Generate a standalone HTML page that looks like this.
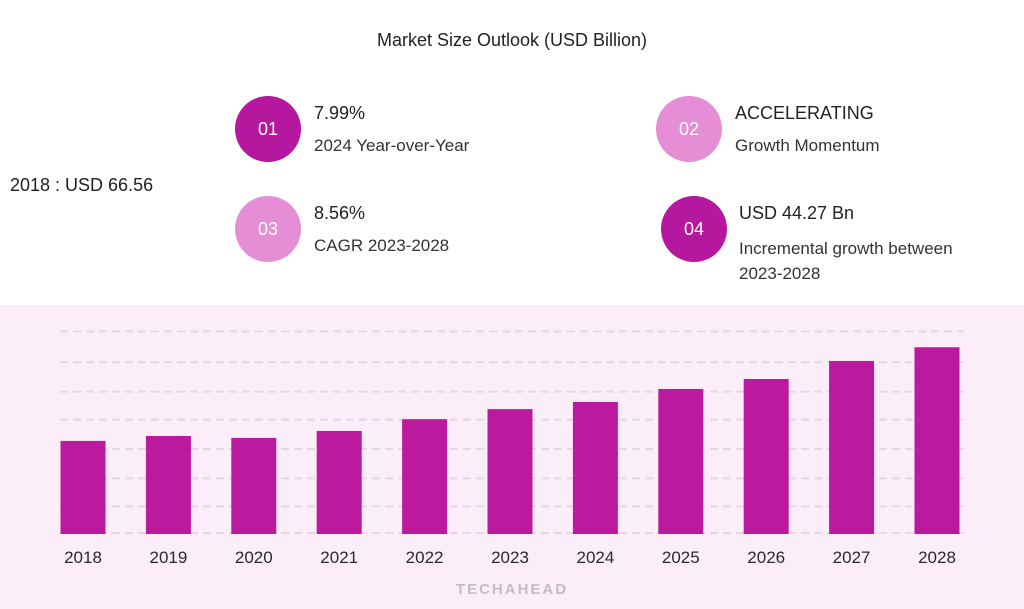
<!DOCTYPE html>
<html><head><meta charset="utf-8"><style>
body{margin:0;width:1024px;height:609px;background:#fff;font-family:"Liberation Sans",sans-serif;position:relative;overflow:hidden;color:#222}
.t{position:absolute;white-space:nowrap}
.c{position:absolute;width:66px;height:66px;border-radius:50%;color:#fff;font-size:18px;display:flex;align-items:center;justify-content:center}
.d{background:#b5179e}.l{background:#e68ed5}
.h{font-size:18px;color:#222}.s{font-size:17px;color:#333}
</style></head><body>
<div class="t" style="left:0;width:1024px;text-align:center;top:30px;font-size:18px">Market Size Outlook (USD Billion)</div>
<div class="t" style="left:10px;top:175px;font-size:18px">2018 : USD 66.56</div>
<div class="c d" style="left:235px;top:96px">01</div>
<div class="t h" style="left:314px;top:103px">7.99%</div>
<div class="t s" style="left:314px;top:136px">2024 Year-over-Year</div>
<div class="c l" style="left:656px;top:96px">02</div>
<div class="t h" style="left:735px;top:103px">ACCELERATING</div>
<div class="t s" style="left:735px;top:136px">Growth Momentum</div>
<div class="c l" style="left:235px;top:196px">03</div>
<div class="t h" style="left:314px;top:203px">8.56%</div>
<div class="t s" style="left:314px;top:236px">CAGR 2023-2028</div>
<div class="c d" style="left:661px;top:196px">04</div>
<div class="t h" style="left:739px;top:203px">USD 44.27 Bn</div>
<div class="t s" style="left:739px;top:236px;line-height:25px">Incremental growth between<br>2023-2028</div>
<svg id="ch" width="1024" height="304" style="position:absolute;left:0;top:305px"></svg>
<script>
const years=["2018","2019","2020","2021","2022","2023","2024","2025","2026","2027","2028"];
const values=[66.5,70,68.6,73.6,82,89.2,94.3,103.6,110.7,123.6,133.4];
const gridVals=[0,19,39,60,81,101,122,144];
const svg=document.getElementById('ch');const NS='http://www.w3.org/2000/svg';
const base=229,scale=1.4;
const y=v=>base-v*scale;
const x=i=>83+i*85.4;
function mk(t,a){const e=document.createElementNS(NS,t);for(const k in a)e.setAttribute(k,a[k]);svg.appendChild(e);return e;}
mk('rect',{x:0,y:0,width:1024,height:304,fill:'#fbeef8'});
gridVals.forEach(g=>{const e=mk('line',{x1:60,x2:964,y1:y(g)-1,y2:y(g)-1,stroke:'#e6d6e2','stroke-width':2,'stroke-dasharray':'8 5'});

});
values.forEach((v,i)=>{const r=mk('rect',{x:x(i)-22.5,y:y(v),width:45,height:v*scale,fill:'#bb199e'});


const t=mk('text',{x:x(i),y:258,'text-anchor':'middle','font-size':17,fill:'#2a2a2a','font-family':'Liberation Sans, sans-serif'});t.textContent=years[i];

});
const lg=mk('text',{x:512,y:289,'text-anchor':'middle','font-size':15,'font-weight':'bold',fill:'#c4bcc2','letter-spacing':2,'font-family':'Liberation Sans, sans-serif'});lg.textContent='TECHAHEAD';


</script>
</body></html>
